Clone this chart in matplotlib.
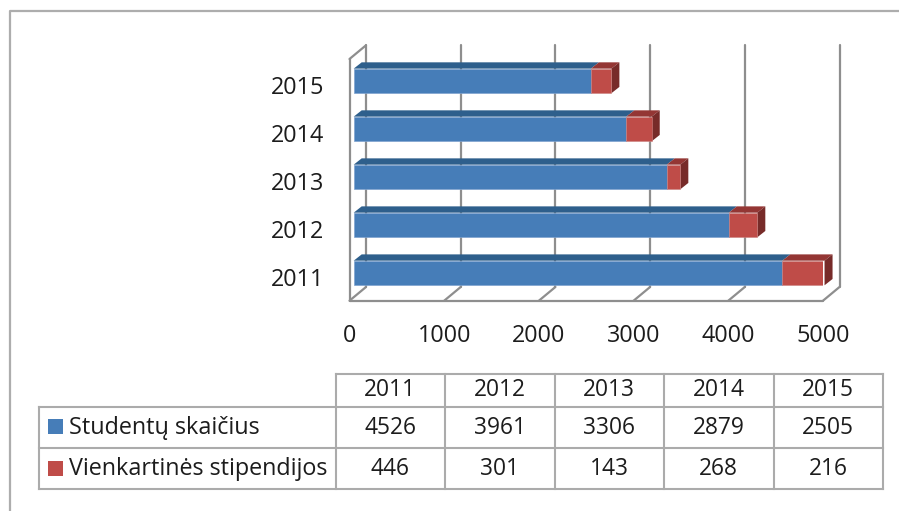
"""Stacked 3D-style bar chart with a data table under it."""
import matplotlib
matplotlib.use("Agg")
import matplotlib.pyplot as plt

plt.rcParams['font.family'] = ['Open Sans', 'DejaVu Sans']

years = ['2011', '2012', '2013', '2014', '2015']
students = [4526, 3961, 3306, 2879, 2505]
grants = [446, 301, 143, 268, 216]
series_names = ['Studentų skaičius', 'Vienkartinės stipendijos']
x_ticks = [0, 1000, 2000, 3000, 4000, 5000]

BLUE, BLUE_TOP = '#467DB8', '#2E5F8C'
RED, RED_TOP, RED_SIDE = '#BF4C48', '#943634', '#772B29'
GRID = '#8E8E8E'
TABLE_LINE = '#ABABAB'
TEXT = '#1C1C1C'
FONT_SIZE = 16.4
LABEL_SIZE = 16.8

W, H = 899, 511
fig = plt.figure(figsize=(W / 100, H / 100), dpi=100)

# рамка и таблица рисуются в пикселях
page = fig.add_axes([0, 0, 1, 1])
page.set_xlim(0, W)
page.set_ylim(H, 0)
page.axis('off')

page.plot([9.5, 9.5, W], [H, 11, 11], color='#ADADAD', lw=1.6)

col_x = [335.5, 445, 554.5, 664, 773.5, 883]
row_y = [374, 407, 448, 489.5]
left_x = 39
page.plot([col_x[0], col_x[-1]], [row_y[0], row_y[0]], color=TABLE_LINE, lw=1.5)
for y in row_y[1:]:
    page.plot([left_x, col_x[-1]], [y, y], color=TABLE_LINE, lw=1.5)
page.plot([left_x, left_x], [row_y[1], row_y[3]], color=TABLE_LINE, lw=1.5)
for x in col_x:
    page.plot([x, x], [row_y[0], row_y[3]], color=TABLE_LINE, lw=1.5)

for i, year in enumerate(years):
    cx = (col_x[i] + col_x[i + 1]) / 2
    page.text(cx, 390, year, ha='center', va='center', fontsize=FONT_SIZE, color=TEXT)
    page.text(cx, 428, str(students[i]), ha='center', va='center', fontsize=FONT_SIZE, color=TEXT)
    page.text(cx, 469, str(grants[i]), ha='center', va='center', fontsize=FONT_SIZE, color=TEXT)

for name, color, top, y in zip(series_names, [BLUE, RED], [419, 461], [427.5, 469]):
    page.add_patch(plt.Rectangle((48, top), 15, 15, color=color, lw=0))
    page.text(69, y, name, ha='left', va='center', fontsize=LABEL_SIZE, color=TEXT)

# основной график: оси совпадают с передним краем "пола"
px_left, px_right, px_top, px_bottom = 349.5, 823, 59, 300.7
ax = fig.add_axes([px_left / W, 1 - px_bottom / H,
                   (px_right - px_left) / W, (px_bottom - px_top) / H])
ax.patch.set_alpha(0)
ax.set_xlim(0, 5000)
ax.set_ylim(-0.494, 4.54)
for spine in ax.spines.values():
    spine.set_visible(False)

PX_X = 5000 / (px_right - px_left)
PX_Y = (4.54 + 0.494) / (px_bottom - px_top)
wall_dx, wall_dy = 16.5 * PX_X, 13.7 * PX_Y
y0, y1 = ax.get_ylim()

line = dict(color=GRID, lw=1.6, clip_on=False, zorder=1, solid_capstyle='round')
for v in x_ticks:
    ax.plot([v + wall_dx, v + wall_dx], [y0 + wall_dy, y1 + wall_dy], **line)
    ax.plot([v, v + wall_dx], [y0, y0 + wall_dy], **line)
ax.plot([0, 0], [y0, y1], **line)
ax.plot([0, wall_dx], [y1, y1 + wall_dy], **line)
ax.plot([0, 5000], [y0, y0], **line)

# сдвиг столбцов внутрь глубины и их собственная глубина
shift_x, shift_y = 4.2 * PX_X, 4 * PX_Y
bar_dx, bar_dy = 8 * PX_X, 6.3 * PX_Y
bar_h = 24.6 * PX_Y

positions = list(range(len(years)))
for i in positions:
    yc = i + shift_y
    xa = shift_x
    xb = xa + students[i]
    xc = xb + grants[i]
    ya = yc + bar_h / 2
    ax.fill([xa, xa + bar_dx, xb + bar_dx, xb], [ya, ya + bar_dy, ya + bar_dy, ya],
            color=BLUE_TOP, lw=0, clip_on=False, zorder=2)
    ax.fill([xb, xb + bar_dx, xc + bar_dx, xc], [ya, ya + bar_dy, ya + bar_dy, ya],
            color=RED_TOP, lw=0, clip_on=False, zorder=2)
    ax.fill([xc, xc + bar_dx, xc + bar_dx, xc],
            [ya, ya + bar_dy, ya + bar_dy - bar_h, ya - bar_h],
            color=RED_SIDE, lw=0, clip_on=False, zorder=2)

bar_y = [p + shift_y for p in positions]
ax.barh(bar_y, students, height=bar_h, left=shift_x, color=BLUE,
        edgecolor='#7FA3CF', lw=0.5, zorder=3)
ax.barh(bar_y, grants, height=bar_h, left=[shift_x + s for s in students],
        color=RED, edgecolor='#CC8280', lw=0.4, zorder=3)

ax.set_xticks(x_ticks)
ax.set_yticks(positions)
ax.set_yticklabels(years)
ax.tick_params(axis='both', length=0, labelsize=LABEL_SIZE, labelcolor=TEXT)
ax.tick_params(axis='x', pad=17)
ax.tick_params(axis='y', pad=18)

fig.savefig('out.png', dpi=100)
